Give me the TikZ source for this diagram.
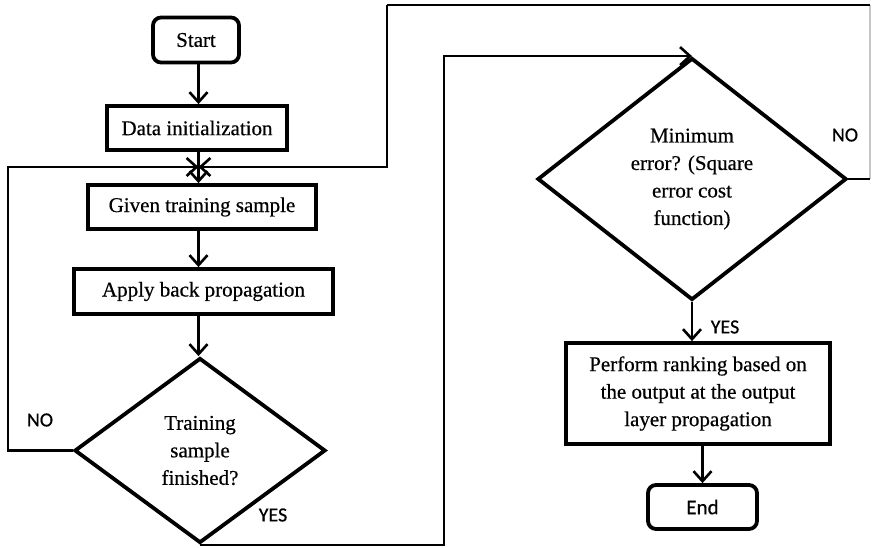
\documentclass[tikz,border=0pt]{standalone}
\usepackage{fontspec}
\setmainfont{Liberation Serif}[FakeBold=0.5]
\newfontfamily\labelfont{Carlito}[FakeBold=0.6]
\usetikzlibrary{shapes.geometric,arrows.meta}

\begin{document}
\begin{tikzpicture}[x=1pt,y=-1pt,
  boxtext/.style={font=\rmfamily\fontsize{21}{27.5}\selectfont, align=center},
  procbox/.style={draw, line width=3.8pt, rectangle, inner sep=0pt, boxtext},
  termbox/.style={draw, line width=3.8pt, rectangle, rounded corners=8pt, inner sep=0pt, boxtext},
  decision/.style={draw, line width=3.8pt, diamond, inner sep=0pt, boxtext},
  flowline/.style={line width=2.6pt},
  flowarrow/.style={flowline, -{Straight Barb[length=10pt,width=18pt,line width=2.6pt]}},
  tag/.style={font=\labelfont\fontsize{20}{22}\selectfont, inner sep=0pt}
]
\useasboundingbox (0,0) rectangle (872,548);

% left column
\node[termbox, minimum width=86, minimum height=45] (start) at (196,40) {Start};
\node[procbox, minimum width=180, minimum height=44] (init) at (197,128) {Data initialization};
\node[procbox, minimum width=228, minimum height=44] (given) at (202,207) {Given training sample};
\node[procbox, minimum width=259, minimum height=45] (apply) at (203.5,291.5) {Apply back propagation};
\node[decision, minimum width=251, minimum height=185] (done) at (200,450.5) {Training\\sample\\finished?};

% right column
\node[decision, minimum width=309, minimum height=242] (minerr) at (692,179) {Minimum\\error? (Square\\error cost\\function)};
\node[procbox, minimum width=264, minimum height=101] (rank) at (698,393.5) {Perform ranking based on\\the output at the output\\layer propagation};
\node[termbox, minimum width=109, minimum height=44, font=\labelfont\fontsize{21}{24}\selectfont] (end) at (702.5,507) {End};

% junction above the training-sample box
\coordinate (join) at (198.5,167);
\coordinate (lcorner) at (8,167);
\coordinate (rtop) at (387,5);
\coordinate (farright) at (870,5);
\coordinate (yesturn) at (444,543);

% main flow
\draw[flowarrow] (start.south -| join) -- (init.north -| join);
\draw[flowline] (init.south -| join) -- (join);
\draw[flowarrow] (join) -- (given.north -| join);
\draw[flowarrow] (given.south -| join) -- (apply.north -| join);
\draw[flowarrow] (apply.south -| join) -- (done.north -| join);

% NO loop of the first decision
\draw[flowarrow] (done.west) -| (lcorner) -- (join);
% NO loop of the second decision
\draw[flowline, gray!45] (minerr.east -| farright) -- (farright);
\draw[flowline] (minerr.east) -- (minerr.east -| farright);
\draw[flowline] (farright) -- (rtop);
\draw[flowarrow] (rtop) |- (join);

% YES to the second decision
\draw[flowarrow] (done.south) -| (yesturn) |- (minerr.north);

% YES to ranking, then to end
\draw[flowarrow] (minerr.south) -- (rank.north -| minerr.south);
\draw[flowarrow] (rank.south -| end.north) -- (end.north);

% branch labels
\node[tag] (no1) at (40,420) {NO};
\node[tag] (yes1) at (273,515) {YES};
\node[tag] (no2) at (845,135) {NO};
\node[tag] (yes2) at (725,327) {YES};
\end{tikzpicture}
\end{document}
